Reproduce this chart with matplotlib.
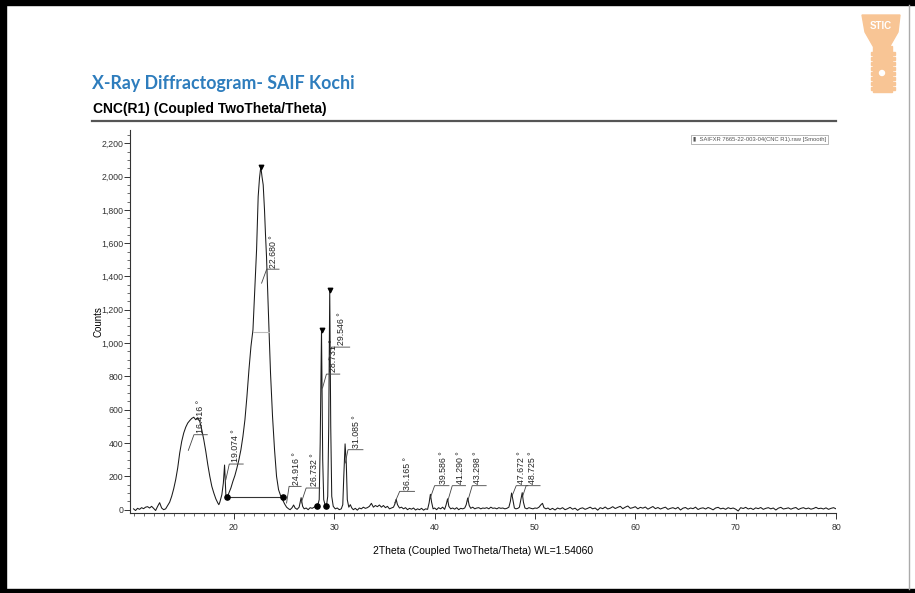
import numpy as np
import matplotlib.pyplot as plt
from matplotlib.patches import Rectangle, Polygon, Circle
from matplotlib.ticker import MultipleLocator, FuncFormatter

plt.rcParams.update({
    'font.family': ['Liberation Sans', 'DejaVu Sans'],
    'font.size': 6,
    'axes.linewidth': 0.8,
    'axes.edgecolor': '#333333',
    'xtick.color': '#333333',
    'ytick.color': '#333333',
})

# scan data (2theta in degrees, counts)
two_theta = [
    10.0, 10.2, 10.4, 10.6, 10.8, 11.0, 11.2, 11.4, 11.6, 11.8, 12.0, 12.2, 12.4, 12.6, 12.8, 13.0, 13.2, 13.4,
    13.6, 13.8, 14.0, 14.2, 14.4, 14.6, 14.8, 15.0, 15.2, 15.4, 15.6, 15.8, 16.0, 16.2, 16.4, 16.6, 16.8,
    17.0, 17.2, 17.4, 17.6, 17.8, 18.0, 18.2, 18.4, 18.5, 18.6, 18.8, 18.95, 19.07, 19.2, 19.35, 19.5, 19.7,
    19.9, 20.1, 20.3, 20.5, 20.7, 20.9, 21.1, 21.3, 21.5, 21.7, 21.9, 22.1, 22.26, 22.42, 22.55, 22.68, 22.8,
    22.92, 23.05, 23.15, 23.25, 23.4, 23.51, 23.65, 23.85, 24.05, 24.25, 24.45, 24.65, 24.85, 25.05, 25.25,
    25.45, 25.6, 25.8, 25.95, 26.1, 26.3, 26.5, 26.7, 26.85, 27.0, 27.2, 27.4, 27.6, 27.8, 28.0, 28.2, 28.35,
    28.5, 28.6, 28.73, 28.85, 28.95, 29.1, 29.22, 29.35, 29.45, 29.55, 29.65, 29.75, 29.9, 30.1, 30.3, 30.5,
    30.7, 30.85, 30.95, 31.08, 31.2, 31.3, 31.45, 31.6, 31.75, 31.9, 32.1, 32.3, 32.5, 32.7, 32.9, 33.1, 33.3,
    33.5, 33.7, 33.9, 34.1, 34.3, 34.5, 34.7, 34.9, 35.1, 35.3, 35.5, 35.7, 35.9, 36.05, 36.17, 36.3, 36.5,
    36.7, 36.9, 37.1, 37.3, 37.5, 37.7, 37.9, 38.1, 38.3, 38.5, 38.7, 38.9, 39.1, 39.3, 39.45, 39.58, 39.7,
    39.85, 40.0, 40.2, 40.4, 40.6, 40.8, 41.0, 41.15, 41.29, 41.42, 41.6, 41.8, 42.0, 42.2, 42.4, 42.6, 42.8,
    43.0, 43.15, 43.3, 43.45, 43.6, 43.8, 44.0, 44.2, 44.4, 44.6, 44.8, 45.0, 45.2, 45.4, 45.6, 45.8, 46.0,
    46.2, 46.4, 46.6, 46.8, 47.0, 47.2, 47.4, 47.55, 47.67, 47.8, 47.95, 48.1, 48.3, 48.45, 48.6, 48.73,
    48.85, 49.0, 49.2, 49.4, 49.6, 49.8, 50.0, 50.2, 50.4, 50.6, 50.75, 50.9, 51.1, 51.3, 51.5,
]
counts = [
    5, -5, 8, 2, 12, 6, 15, 18, 10, 20, 8, -5, 20, 42, 10, 0, 5, 25,
    45, 80, 125, 180, 250, 340, 410, 460, 495, 520, 535, 548, 555, 540, 552, 530, 480,
    420, 350, 270, 200, 140, 100, 65, 40, 30, 45, 90, 160, 268, 90, 75, 100, 130,
    170, 205, 250, 300, 360, 440, 540, 680, 840, 980, 1080, 1350, 1560, 1880, 1990, 2060, 2000,
    1950, 1800, 1650, 1520, 1250, 1060, 820, 560, 360, 200, 120, 85, 60, 35, 15,
    5, 0, 12, 28, 10, 2, 15, 72, 20, 5, 10, 0, 12, 8, 15, 20, 25,
    60, 400, 1080, 300, 60, 25, 20, 80, 500, 1320, 500, 80, 20, 5, 10, 0,
    5, 30, 200, 395, 280, 60, 15, 30, 10, 0, 8, -3, 10, 5, 15, 8, 12,
    20, 38, 15, 25, 18, 28, 15, 25, 12, 20, 5, 10, 15, 35, 62, 30, 10,
    15, 5, 12, 0, 8, 3, 10, -2, 5, 0, 8, -3, 5, 2, 40, 92, 45,
    5, 10, 0, 12, 5, 15, 2, 30, 65, 20, 5, 10, 3, 12, 0, 8, 5,
    10, 30, 70, 25, 8, 15, 5, 10, 12, 5, 10, 8, 12, 5, 15, 8, 10,
    5, 12, 8, 10, 5, 8, 15, 50, 100, 60, 10, 5, 8, 15, 60, 102,
    45, 10, 5, 12, 8, 5, 10, 8, 15, 30, 38, 12, 5, 10, 0,
]
# flat tail of the scan, 0.25 deg steps from 51.75 to 80
tail_counts = [
    8, -2, 10, 4, 12, 0, 6, 14, 3, 9, -4, 7,
    11, 2, 8, 15, 5, 10, -3, 12, 6, 16, 4, 9,
    18, 7, 14, 20, 6, 15, 22, 8, 12, 18, 5, 14,
    9, 16, 3, 11, 19, 6, 13, 4, 10, 15, 2, 8,
    12, 5, 14, -2, 9, 13, 3, 10, 6, 15, 1, 8,
    11, 4, 13, 7, -1, 10, 14, 5, 9, 2, 12, 6,
    10, 3, -8, 12, 7, 14, 4, 9, 1, 11, 6, 13,
    2, 8, 12, 5, 10, -2, 9, 14, 4, 7, 11, 3,
    9, 13, 1, 8, 12, 5, 10, 3, 7, 14, 6, 9,
    4, 11, 2, 8, 12, 5,
]
tail_theta = 51.75 + 0.25 * np.arange(len(tail_counts))

x = np.concatenate([two_theta, tail_theta])
y = np.concatenate([counts, tail_counts])

# peak search results
peak_names = ['16.416 °', '19.074 °', '22.680 °', '24.916 °', '26.732 °', '28.731 °', '29.546 °',
              '31.085 °', '36.165 °', '39.586 °', '41.290 °', '43.298 °', '47.672 °', '48.725 °']
# leader layout: start x, start y, bend x, level, end x, text x
leader_layout = [
    (15.46, 356, 16.02, 450, 17.35, 16.65),
    (19.20, 180, 19.54, 274, 20.93, 20.15),
    (22.76, 1360, 23.27, 1444, 24.50, 23.95),
    (25.25, 40, 25.50, 140, 26.70, 26.20),
    (26.70, 40, 27.20, 130, 28.56, 28.00),
    (28.83, 730, 29.22, 814, 30.55, 29.88),
    (29.45, 900, 29.72, 976, 31.54, 30.72),
    (31.10, 280, 31.37, 360, 32.86, 32.20),
    (36.02, 40, 36.52, 110, 38.00, 37.34),
    (39.57, 70, 40.00, 144, 41.43, 40.90),
    (41.33, 56, 41.76, 144, 43.08, 42.59),
    (43.30, 52, 43.75, 144, 45.14, 44.31),
    (47.73, 84, 48.13, 144, 49.29, 48.69),
    (48.79, 84, 49.12, 144, 50.51, 49.78),
]
top_marks_x = [22.68, 28.73, 29.55]
top_marks_y = [2060, 1080, 1320]
base_dots_x = [19.33, 24.90, 28.33, 29.22]
base_dots_y = [76, 76, 24, 20]

fig = plt.figure(figsize=(9.15, 5.93), dpi=100)
ax = fig.add_axes([0.1421, 0.1349, 0.7716, 0.646])

ax.plot(x, y, color='#1a1a1a', linewidth=0.75)

# background line and half-max line of the main peak
ax.plot([19.33, 24.90], [76, 76], color='#333333', linewidth=0.8)
ax.plot([21.92, 23.51], [1064, 1064], color='#bbbbbb', linewidth=0.8)
ax.scatter(base_dots_x, base_dots_y, s=14, color='black', zorder=3)
ax.scatter(top_marks_x, top_marks_y, s=10, marker='v', color='black', zorder=3)

for name, (xs, ys, xb, lev, xe, xt) in zip(peak_names, leader_layout):
    ax.plot([xs, xb, xe], [ys, lev, lev], color='#444444', linewidth=0.6)
    ax.text(xt, lev + 10, name, rotation=90, ha='center', va='bottom', fontsize=6.3, color='#222222')

ax.set_xlim(9.65, 80)
ax.set_ylim(-20, 2280)
ax.spines['top'].set_visible(False)
ax.spines['right'].set_visible(False)
ax.set_xticks(range(20, 81, 10))
ax.xaxis.set_minor_locator(MultipleLocator(1))
ax.yaxis.set_major_locator(MultipleLocator(200))
ax.yaxis.set_minor_locator(MultipleLocator(50))
ax.yaxis.set_major_formatter(FuncFormatter(lambda v, p: f'{int(v):,}'))
ax.tick_params(which='major', length=4, width=0.7, labelsize=6.3, pad=1)
ax.tick_params(which='minor', length=2, width=0.5)
ax.tick_params(axis='x', pad=3)

ax.set_ylabel('Counts', fontsize=7)
ax.yaxis.set_label_coords(-0.038, 0.5)
ax.set_xlabel('2Theta (Coupled TwoTheta/Theta) WL=1.54060', fontsize=7.5, labelpad=10)

# legend entry box
ax.text(0.892, 0.975, '▮  SAIFXR 7665-22-003-04(CNC R1).raw [Smooth]', transform=ax.transAxes,
        ha='center', va='center', fontsize=4.2, color='#555555',
        bbox=dict(boxstyle='square,pad=0.3', facecolor='white', edgecolor='#999999', linewidth=0.5))

# page decorations in pixel coordinates
ov = fig.add_axes([0, 0, 1, 1], zorder=5)
ov.set_xlim(0, 915)
ov.set_ylim(593, 0)
ov.axis('off')
ov.patch.set_alpha(0)
ov.add_patch(Rectangle((0, 0), 6, 593, color='black'))
ov.add_patch(Rectangle((0, 0), 915, 5, color='black'))
ov.add_patch(Rectangle((0, 589), 915, 4, color='black'))
ov.plot([909, 909], [5, 589], color='#aaaaaa', linewidth=1)
ov.plot([92, 836], [120.5, 120.5], color='#555555', linewidth=1.6)

ov.text(92, 89, 'X-Ray Diffractogram- SAIF Kochi', fontsize=12.8, fontweight='bold',
        family='Lato', color='#2e7dbd', ha='left', va='baseline')
ov.text(93, 113, 'CNC(R1) (Coupled TwoTheta/Theta)', fontsize=10, fontweight='bold',
        color='black', ha='left', va='baseline')

# STIC logo
logo = '#f8c595'
ov.add_patch(Polygon([(862, 15), (900, 15), (898, 32), (890, 46), (873, 46), (865, 32)],
                     closed=True, color=logo))
ov.text(881, 26, 'STIC', fontsize=7, color='white', ha='center', va='center', fontweight='bold')
ov.add_patch(Rectangle((873, 46), 19, 46, color=logo))
for yy in range(52, 90, 5):
    ov.add_patch(Rectangle((892, yy), 2.5, 2.5, color=logo))
    ov.add_patch(Rectangle((870.5, yy), 2.5, 2.5, color=logo))
ov.add_patch(Circle((882, 73), 2.5, color='white'))

plt.savefig('out.png', dpi=100)
plt.close()
